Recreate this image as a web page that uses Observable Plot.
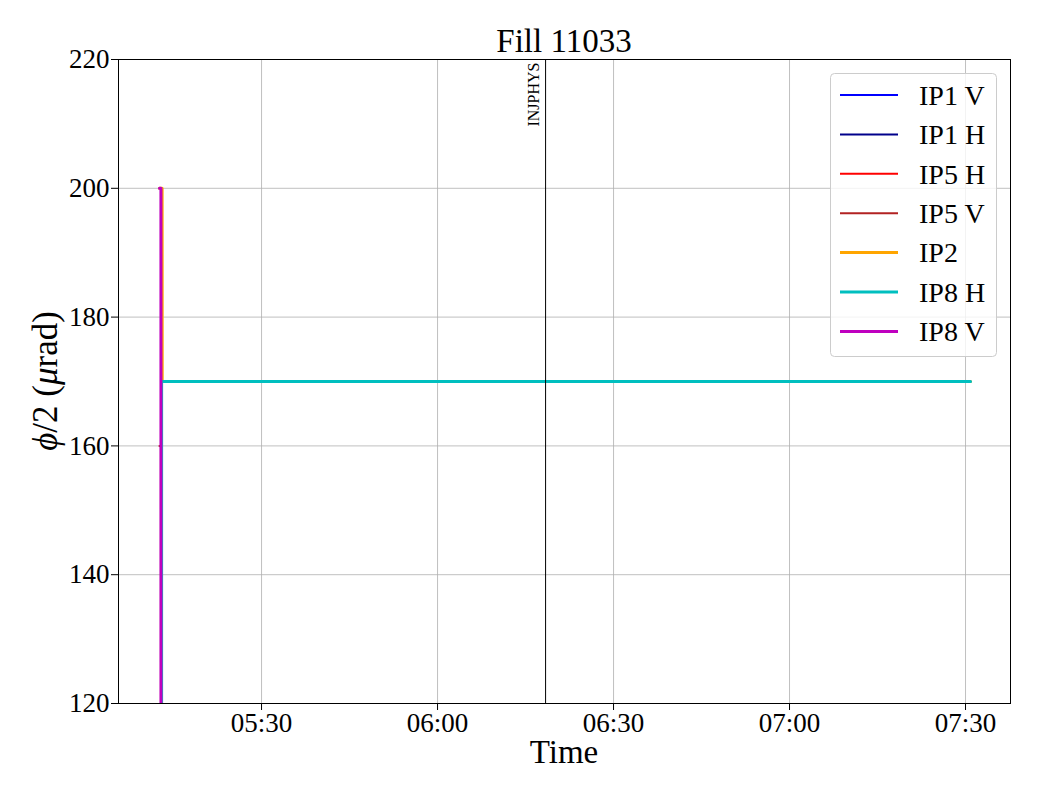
<!DOCTYPE html>
<html>
<head>
<meta charset="utf-8">
<script src="https://cdn.jsdelivr.net/npm/d3@7"></script>
<script src="https://cdn.jsdelivr.net/npm/@observablehq/plot@0.6"></script>
<style>
  html, body { margin: 0; padding: 0; background: white; }
  #chart { width: 1040px; height: 800px; }
</style>
</head>
<body>
<div id="chart"></div>
<script>
// ---- Data ----
const day = "2025-07-01";
const title = "Fill 11033";
const seriesNames = ["IP1 V", "IP1 H", "IP5 H", "IP5 V", "IP2", "IP8 H", "IP8 V"];
const seriesColors = ["#0000ff", "#00008b", "#ff0000", "#b22222", "#ffa500", "#00bfbf", "#bf00bf"];
const seriesWidths = [2, 2, 2, 2, 3, 3, 3];
const sampleTimes = ["05:12:36", "05:12:51", "05:12:52", "05:12:57", "05:12:58", "05:13:03", "05:13:04", "07:30:51"];
const valuesIP1V = [0, 0, 0, 0, 0, 0, 0, 0];
const valuesIP1H = [0, 0, 0, 0, 0, 0, 0, 0];
const valuesIP5H = [0, 0, 0, 0, 0, 0, 0, 0];
const valuesIP5V = [160, 160, 0, 0, 0, 0, 0, 0];
const valuesIP2  = [200, 200, 200, 200, 200, 200, 170, 170];
const valuesIP8H = [0, 0, 0, 0, 170, 170, 170, 170];
const valuesIP8V = [200, 200, 0, 0, 0, 0, 0, 0];
const seriesValues = [valuesIP1V, valuesIP1H, valuesIP5H, valuesIP5V, valuesIP2, valuesIP8H, valuesIP8V];
const xDomainTimes = ["05:05:37", "07:37:40"];
const xTickTimes = ["05:30", "06:00", "06:30", "07:00", "07:30"];
const yDomain = [120, 220];
const yTicks = [120, 140, 160, 180, 200, 220];
const eventTime = "06:18:25";
const eventLabel = "INJPHYS";

// ---- Build ----
const toDate = (s) => new Date(`${day}T${s.length === 5 ? s + ":00" : s}Z`);
const W = 1040, H = 800;
const mL = 118, mR = 30, mT = 59, mB = 97;
const font = "'Liberation Serif', 'DejaVu Serif', serif";

const lineMarks = seriesNames.map((name, i) => {
  const data = sampleTimes.map((t, j) => ({t: toDate(t), v: seriesValues[i][j]}));
  return Plot.line(data, {x: "t", y: "v", stroke: seriesColors[i], strokeWidth: seriesWidths[i], clip: true});
});

const xTicks = xTickTimes.map(toDate);

const chart = Plot.plot({
  width: W, height: H,
  marginLeft: mL, marginRight: mR, marginTop: mT, marginBottom: mB,
  style: {fontFamily: font, fontSize: "27px", background: "white", color: "black"},
  x: {type: "utc", domain: xDomainTimes.map(toDate)},
  y: {domain: yDomain},
  marks: [
    Plot.gridX(xTicks, {stroke: "#b0b0b0", strokeOpacity: 1, strokeWidth: 0.8}),
    Plot.gridY(yTicks, {stroke: "#b0b0b0", strokeOpacity: 1, strokeWidth: 0.8}),
    ...lineMarks,
    Plot.ruleX([toDate(eventTime)], {stroke: "black", strokeWidth: 1}),
    Plot.text([eventLabel], {x: toDate(eventTime), y: yDomain[1], text: d => d, rotate: -90,
      textAnchor: "end", lineAnchor: "bottom", dy: 3, dx: -7, fontSize: 16, fill: "black"}),
    Plot.frame({stroke: "black", strokeWidth: 1}),
    Plot.axisX(xTicks, {tickFormat: d3.utcFormat("%H:%M"), tickSize: 7, tickPadding: 2, fontSize: 27, label: null, stroke: "black"}),
    Plot.axisY(yTicks, {tickSize: 7, tickPadding: 2, fontSize: 27, label: null, stroke: "black"})
  ]
});

document.getElementById("chart").appendChild(chart);

// ---- Titles & legend ----
const svg = d3.select(chart);
const cx = mL + (W - mL - mR) / 2;
svg.append("text").attr("x", cx).attr("y", 52).attr("text-anchor", "middle")
  .attr("font-family", font).attr("font-size", 33).attr("fill", "black").text(title);
svg.append("text").attr("x", cx).attr("y", 763).attr("text-anchor", "middle")
  .attr("font-family", font).attr("font-size", 33).attr("fill", "black").text("Time");
const yl = svg.append("text").attr("transform", `translate(57,${mT + (H - mT - mB) / 2}) rotate(-90)`)
  .attr("text-anchor", "middle").attr("font-family", font).attr("font-size", 35).attr("fill", "black");
yl.append("tspan").attr("font-style", "italic").text("ϕ");
yl.append("tspan").text("/2 (");
yl.append("tspan").attr("font-style", "italic").text("μ");
yl.append("tspan").text("rad)");

const lg = svg.append("g");
lg.append("rect").attr("x", 830.5).attr("y", 73.5).attr("width", 166).attr("height", 283).attr("rx", 4)
  .attr("fill", "white").attr("fill-opacity", 0.8).attr("stroke", "#cccccc").attr("stroke-width", 1);
seriesNames.forEach((name, i) => {
  const y = 95 + i * 39.4;
  lg.append("line").attr("x1", 840).attr("x2", 898).attr("y1", y).attr("y2", y)
    .attr("stroke", seriesColors[i]).attr("stroke-width", seriesWidths[i]);
  lg.append("text").attr("x", 919).attr("y", y).attr("dy", "0.35em").attr("text-anchor", "start")
    .attr("font-family", font).attr("font-size", 28).attr("fill", "black").text(name);
});
</script>
</body>
</html>
